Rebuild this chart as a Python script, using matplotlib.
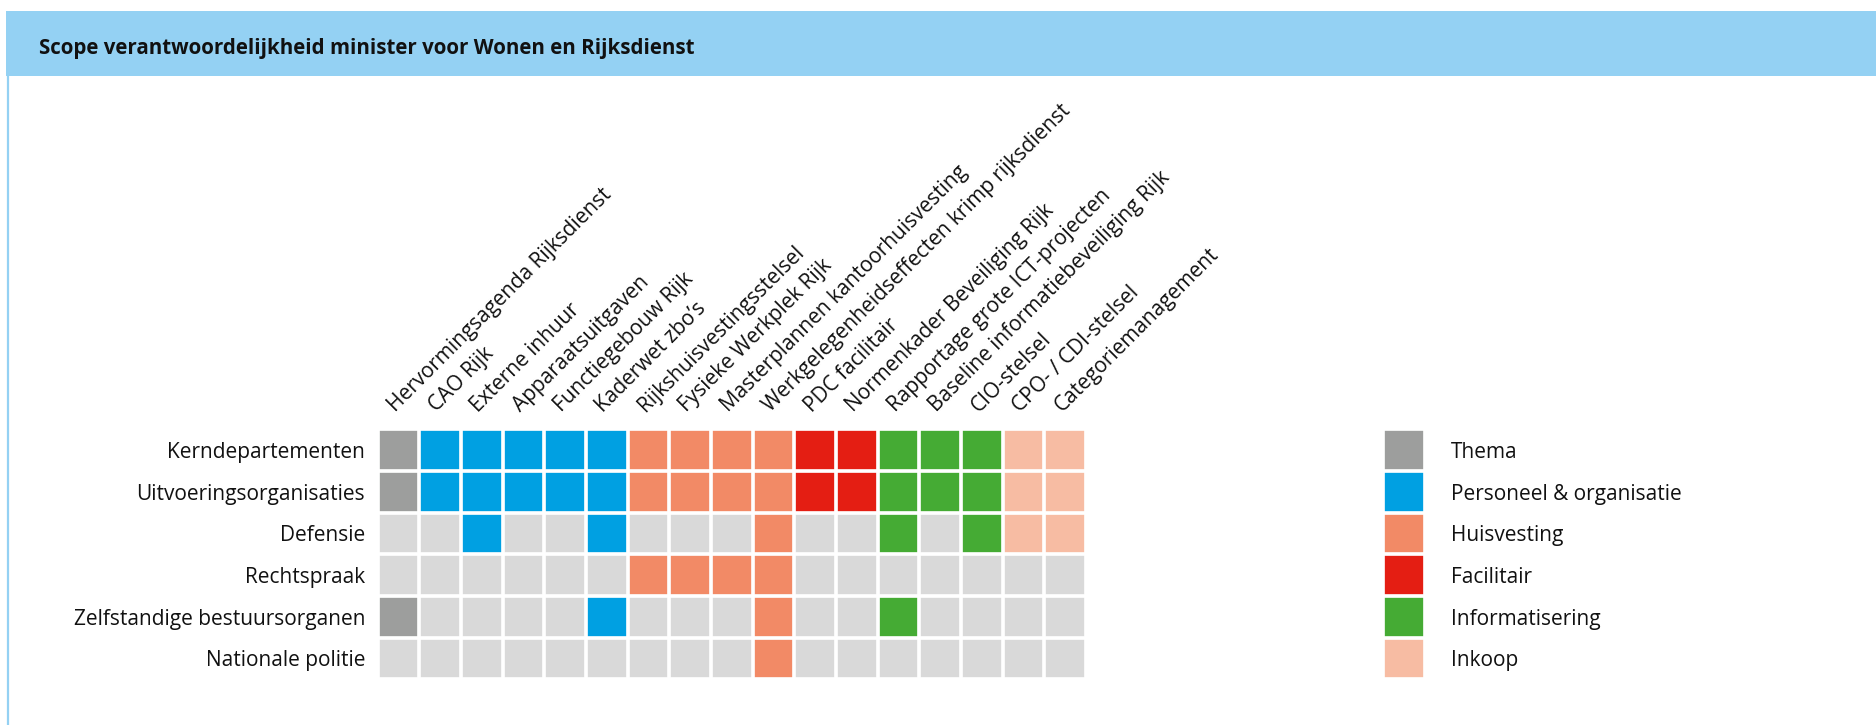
import numpy as np
import matplotlib
matplotlib.use('Agg')
import matplotlib.pyplot as plt
from matplotlib.colors import ListedColormap
from matplotlib.patches import Rectangle
from matplotlib.lines import Line2D

plt.rcParams['font.family'] = ['Open Sans', 'DejaVu Sans']

# Data
title = 'Scope verantwoordelijkheid minister voor Wonen en Rijksdienst'

organisations = ['Kerndepartementen', 'Uitvoeringsorganisaties', 'Defensie',
                 'Rechtspraak', 'Zelfstandige bestuursorganen', 'Nationale politie']

topics = ['Hervormingsagenda Rijksdienst', 'CAO Rijk', 'Externe inhuur',
          'Apparaatsuitgaven', 'Functiegebouw Rijk', 'Kaderwet zbo\u2019s',
          'Rijkshuisvestingsstelsel', 'Fysieke Werkplek Rijk',
          'Masterplannen kantoorhuisvesting',
          'Werkgelegenheidseffecten krimp rijksdienst', 'PDC facilitair',
          'Normenkader Beveiliging Rijk', 'Rapportage grote ICT-projecten',
          'Baseline informatiebeveiliging Rijk', 'CIO-stelsel',
          'CPO- / CDI-stelsel', 'Categoriemanagement']

themes = ['Thema', 'Personeel & organisatie', 'Huisvesting', 'Facilitair',
          'Informatisering', 'Inkoop']

# theme index (into themes) for each topic column
topic_theme = [0, 1, 1, 1, 1, 1, 2, 2, 2, 2, 3, 3, 4, 4, 4, 5, 5]

# 1 = topic in scope for organisation
in_scope = [
    [1, 1, 1, 1, 1, 1, 1, 1, 1, 1, 1, 1, 1, 1, 1, 1, 1],
    [1, 1, 1, 1, 1, 1, 1, 1, 1, 1, 1, 1, 1, 1, 1, 1, 1],
    [0, 0, 1, 0, 0, 1, 0, 0, 0, 1, 0, 0, 1, 0, 1, 1, 1],
    [0, 0, 0, 0, 0, 0, 1, 1, 1, 1, 0, 0, 0, 0, 0, 0, 0],
    [1, 0, 0, 0, 0, 1, 0, 0, 0, 1, 0, 0, 1, 0, 0, 0, 0],
    [0, 0, 0, 0, 0, 0, 0, 0, 0, 1, 0, 0, 0, 0, 0, 0, 0],
]

empty_color = '#D9D9D9'
theme_colors = ['#9D9E9D', '#00A0E2', '#F28A66', '#E41E13', '#45AB34', '#F7BCA3']

# Build grid: 0 = empty, k+1 = theme k
scope = np.array(in_scope)
grid = scope * (np.array(topic_theme) + 1)
cmap = ListedColormap([empty_color] + theme_colors)

W, H = 1876, 725
fig = plt.figure(figsize=(W / 100, H / 100), dpi=100)

# Header band and left border line
fig.add_artist(Rectangle((6 / W, 1 - 76 / H), 1 - 6 / W, 65 / H,
                         transform=fig.transFigure, color='#94D1F3', lw=0))
fig.add_artist(Line2D([8.3 / W, 8.3 / W], [0, 1 - 76 / H],
                      transform=fig.transFigure, color='#94D1F3', lw=1.6))
fig.text(39 / W, 1 - 48.5 / H, title, fontsize=14.8, fontweight='bold',
         va='center', ha='left', color='#111111')

# Matrix
pitch = 41.67
gap_lw = 3.67 * 72 / 100
left, top = 377.5, 429.2
fs = 15
ax = fig.add_axes([left / W, 1 - (top + 6 * pitch) / H,
                   17 * pitch / W, 6 * pitch / H])
ax.imshow(grid, cmap=cmap, vmin=0, vmax=len(themes), aspect='auto',
          interpolation='nearest')
for x in range(len(topics) + 1):
    ax.axvline(x - 0.5, color='white', linewidth=gap_lw, clip_on=False)
for y in range(len(organisations) + 1):
    ax.axhline(y - 0.5, color='white', linewidth=gap_lw, clip_on=False)
ax.set_xlim(-0.5, len(topics) - 0.5)
ax.set_ylim(len(organisations) - 0.5, -0.5)
for s in ax.spines.values():
    s.set_visible(False)
ax.set_xticks([])
ax.set_yticks(range(len(organisations)))
ax.set_yticklabels(organisations, fontsize=fs, color='#111111')
ax.tick_params(axis='y', length=0, pad=9)

for j, name in enumerate(topics):
    ax.text(j - 0.08, -0.89, name, rotation=45, rotation_mode='anchor',
            ha='left', va='baseline', fontsize=fs, color='#111111',
            clip_on=False)

# Legend
lax = fig.add_axes([1383.2 / W, 1 - (top + 6 * pitch) / H,
                    pitch / W, 6 * pitch / H])
lax.imshow(np.arange(1, len(themes) + 1).reshape(-1, 1), cmap=cmap,
           vmin=0, vmax=len(themes), aspect='auto', interpolation='nearest')
lax.axvline(-0.5, color='white', linewidth=gap_lw, clip_on=False)
lax.axvline(0.5, color='white', linewidth=gap_lw, clip_on=False)
for y in range(len(themes) + 1):
    lax.axhline(y - 0.5, color='white', linewidth=gap_lw, clip_on=False)
lax.set_xlim(-0.5, 0.5)
lax.set_ylim(len(themes) - 0.5, -0.5)
for s in lax.spines.values():
    s.set_visible(False)
lax.set_xticks([])
lax.yaxis.tick_right()
lax.set_yticks(range(len(themes)))
lax.set_yticklabels(themes, fontsize=fs, color='#111111', ha='left')
lax.tick_params(axis='y', length=0, pad=19)

fig.savefig('out.png', dpi=100, facecolor='white')
